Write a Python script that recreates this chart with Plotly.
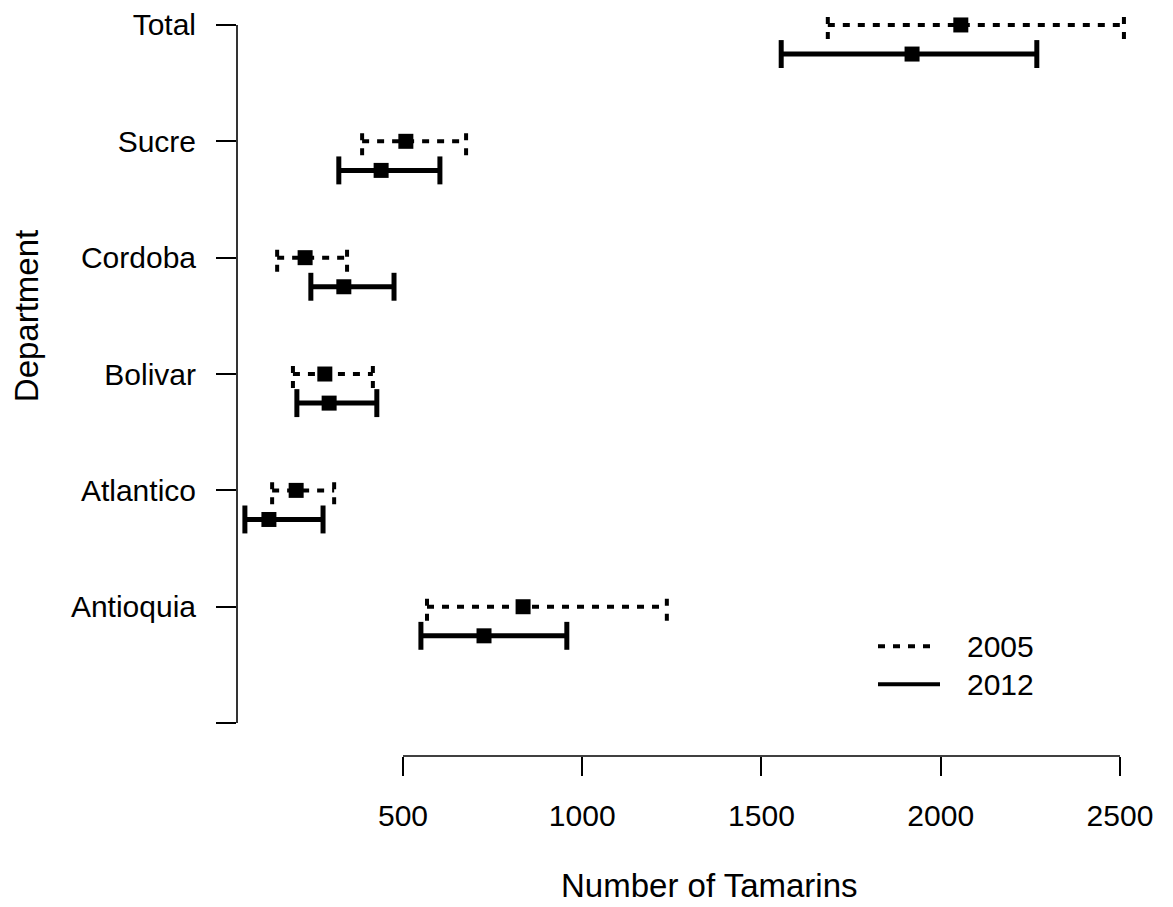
import plotly.graph_objects as go

departments = ["Antioquia", "Atlantico", "Bolivar", "Cordoba", "Sucre", "Total"]

est_2005 = [835, 202, 282, 227, 508, 2056]
low_2005 = [567, 135, 193, 149, 386, 1685]
high_2005 = [1236, 308, 416, 344, 676, 2511]

est_2012 = [726, 126, 294, 335, 439, 1920]
low_2012 = [550, 59, 204, 243, 321, 1555]
high_2012 = [957, 277, 427, 475, 603, 2268]

x_ticks = [500, 1000, 1500, 2000, 2500]
legend_labels = ["2005", "2012"]

FONT = "Liberation Sans, Arial, sans-serif"
FS = 30       # tick labels / legend
FS_T = 33     # axis titles
CAP = 0.12          # half-height of error bar caps (y units)
OFFSET_2012 = 0.25  # vertical offset of 2012 below each department

# page has an 8px body margin: work in page pixels, convert to figure pixels
PAGE_OFF = 8
W, H = 1173 - PAGE_OFF, 907 - PAGE_OFF
PLOT_LEFT, PLOT_BOTTOM, PLOT_TOP = 237, 756, PAGE_OFF
L = PLOT_LEFT - PAGE_OFF
PW = W - L
PH = PLOT_BOTTOM - PLOT_TOP
B = H - PH
xr = [37, 37 + PW / 0.3585]
unit = (723 - 23) / 6.0
ymin = -(PLOT_BOTTOM - 723) / unit
yr = [ymin, ymin + PH / unit]

fig = go.Figure()


def add_series(est, low, high, dy, dash, width):
    ys = [i + 1 - dy for i in range(len(departments))]
    hx, hy, cx, cy = [], [], [], []
    for lo, hi, y in zip(low, high, ys):
        hx += [lo, hi, None]
        hy += [y, y, None]
        cx += [lo, lo, None, hi, hi, None]
        cy += [y - CAP, y + CAP, None, y - CAP, y + CAP, None]
    fig.add_trace(go.Scatter(x=hx, y=hy, mode="lines", showlegend=False,
                             line=dict(color="black", width=width, dash=dash)))
    fig.add_trace(go.Scatter(x=cx, y=cy, mode="lines", showlegend=False,
                             line=dict(color="black", width=width, dash=dash)))
    fig.add_trace(go.Scatter(x=est, y=ys, mode="markers", showlegend=False,
                             marker=dict(symbol="square", size=15, color="black",
                                         line=dict(width=0))))


DASH = "7px,8px"
add_series(est_2005, low_2005, high_2005, 0.0, DASH, 4)
add_series(est_2012, low_2012, high_2012, OFFSET_2012, "solid", 5)

shapes = [
    dict(type="line", xref="x", yref="paper", x0=x_ticks[0], x1=x_ticks[-1], y0=0, y1=0,
         line=dict(color="black", width=1.6)),
    dict(type="line", xref="paper", yref="y", x0=0, x1=0, y0=0, y1=len(departments),
         line=dict(color="black", width=1.6)),
]


def px_x(p):
    return (p - PLOT_LEFT) / PW


def px_y(p):
    return (PLOT_BOTTOM - p) / PH


# manual legend
shapes.append(dict(type="line", xref="paper", yref="paper", x0=px_x(878), x1=px_x(936),
                   y0=px_y(646), y1=px_y(646), line=dict(color="black", width=4, dash=DASH)))
shapes.append(dict(type="line", xref="paper", yref="paper", x0=px_x(878), x1=px_x(940),
                   y0=px_y(684), y1=px_y(684), line=dict(color="black", width=4)))

annotations = [
    dict(text=legend_labels[0], xref="paper", yref="paper", x=px_x(965), y=px_y(646),
         xanchor="left", yanchor="middle", showarrow=False, font=dict(size=FS, color="black", family=FONT)),
    dict(text=legend_labels[1], xref="paper", yref="paper", x=px_x(965), y=px_y(684),
         xanchor="left", yanchor="middle", showarrow=False, font=dict(size=FS, color="black", family=FONT)),
    dict(text="Number of Tamarins", xref="paper", yref="paper", x=px_x(709), y=px_y(886),
         xanchor="center", yanchor="middle", showarrow=False, font=dict(size=FS_T, color="black", family=FONT)),
    dict(text="Department", xref="paper", yref="paper", x=px_x(26), y=px_y(315), textangle=-90,
         xanchor="center", yanchor="middle", showarrow=False, font=dict(size=FS_T, color="black", family=FONT)),
]

fig.update_layout(
    width=W, height=H,
    margin=dict(l=L, r=0, t=0, b=B),
    paper_bgcolor="white", plot_bgcolor="white",
    showlegend=False,
    font=dict(family=FONT, size=FS, color="black"),
    shapes=shapes,
    annotations=annotations,
    xaxis=dict(range=xr, tickvals=x_ticks, ticktext=[str(v) for v in x_ticks],
               ticks="outside", ticklen=19, tickwidth=1.6, tickcolor="black",
               showgrid=False, zeroline=False, showline=False,
               ticklabelstandoff=14, ticklabeloverflow="allow",
               tickfont=dict(size=FS, family=FONT, color="black")),
    yaxis=dict(range=yr, tickvals=list(range(len(departments) + 1)),
               ticktext=[""] + departments,
               ticks="outside", ticklen=20, tickwidth=1.6, tickcolor="black",
               showgrid=False, zeroline=False, showline=False,
               ticklabelstandoff=14, ticklabeloverflow="allow",
               tickfont=dict(size=FS, family=FONT, color="black")),
)

fig.write_html("out.html")
